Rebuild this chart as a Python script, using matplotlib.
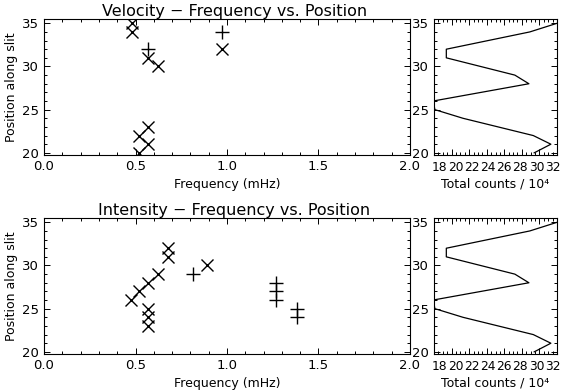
import numpy as np
import matplotlib
matplotlib.use("Agg")
import matplotlib.pyplot as plt
from matplotlib.ticker import MultipleLocator
from matplotlib.transforms import ScaledTranslation

# velocity panel: x markers and + markers (freq in mHz, position along slit)
vel_x_freq = [0.48, 0.48, 0.57, 0.625, 0.975, 0.57, 0.52, 0.57, 0.52]
vel_x_pos = [35, 34, 31, 30, 32, 23, 22, 21, 20]
vel_p_freq = [0.57, 0.975]
vel_p_pos = [32, 34]

# intensity panel
int_x_freq = [0.475, 0.52, 0.57, 0.625, 0.68, 0.68, 0.89, 0.57, 0.57, 0.57]
int_x_pos = [26, 27, 28, 29, 32, 31, 30, 25, 24, 23]
int_p_freq = [0.815, 1.27, 1.27, 1.27, 1.385, 1.385]
int_p_pos = [29, 28, 27, 26, 25, 24]

# total counts profile along the slit (units of 10^4)
slit_pos = [20, 21, 22, 24, 25, 26, 28, 29, 31, 32, 34, 35]
counts = [29.4, 31.3, 29.3, 21.3, 18.1, 17.9, 28.8, 27.2, 19.4, 19.4, 28.9, 32.0]

titles = ["Velocity \u2212 Frequency vs. Position", "Intensity \u2212 Frequency vs. Position"]
panels = [(vel_x_freq, vel_x_pos, vel_p_freq, vel_p_pos),
          (int_x_freq, int_x_pos, int_p_freq, int_p_pos)]

plt.rcParams['font.family'] = 'DejaVu Sans'
plt.rcParams['font.size'] = 9

fig = plt.figure(figsize=(5.63, 3.92), dpi=100)
bottoms = [0.6046, 0.0969]
h = 0.347

def style(ax):
    ax.tick_params(which='both', direction='in', top=True, right=True, width=0.7, labelsize=9.5)
    ax.tick_params(which='major', length=4.5)
    ax.tick_params(which='minor', length=2.2)
    for s in ax.spines.values():
        s.set_linewidth(0.8)

right_axes = []
for i, (xf, xp, pf, pp) in enumerate(panels):
    ax = fig.add_axes([0.0782, bottoms[i], 0.65, h])
    ax.plot(xf, xp, 'x', color='black', ms=9, mew=1.0)
    ax.plot(pf, pp, '+', color='black', ms=9.5, mew=1.0)
    ax.set_xlim(0, 2)
    ax.set_ylim(19.75, 35.5)
    ax.xaxis.set_major_locator(MultipleLocator(0.5))
    ax.xaxis.set_minor_locator(MultipleLocator(0.1))
    ax.yaxis.set_major_locator(MultipleLocator(5))
    ax.yaxis.set_minor_locator(MultipleLocator(1))
    ax.xaxis.set_major_formatter(lambda v, p: f"{v:.1f}")
    style(ax)
    ax.set_xlabel("Frequency (mHz)", fontsize=9, labelpad=4)
    ax.set_ylabel("Position along slit", fontsize=9, labelpad=3)
    ax.set_title(titles[i], fontsize=11.5, pad=1.5, x=0.52)

    ax2 = fig.add_axes([0.7709, bottoms[i], 0.2185, h])
    ax2.plot(counts, slit_pos, color='black', lw=0.9)
    ax2.set_xlim(18, 32)
    ax2.set_ylim(19.75, 35.5)
    ax2.xaxis.set_major_locator(MultipleLocator(2))
    ax2.xaxis.set_minor_locator(MultipleLocator(0.5))
    ax2.yaxis.set_major_locator(MultipleLocator(5))
    ax2.yaxis.set_minor_locator(MultipleLocator(1))
    style(ax2)
    ax2.tick_params(axis='x', labelsize=8.8, pad=4)
    ax2.set_xlabel("Total counts / 10\u2074", fontsize=9, labelpad=3)
    right_axes.append(ax2)

# squeeze the crowded count labels inward like the original
for ax2 in right_axes:
    for k, lab in enumerate(ax2.get_xticklabels()):
        dx = (6.5 - 1.35 * k) / 100.0
        lab.set_transform(lab.get_transform() + ScaledTranslation(dx, 0, fig.dpi_scale_trans))

fig.savefig("out.png", dpi=100, facecolor='w')
